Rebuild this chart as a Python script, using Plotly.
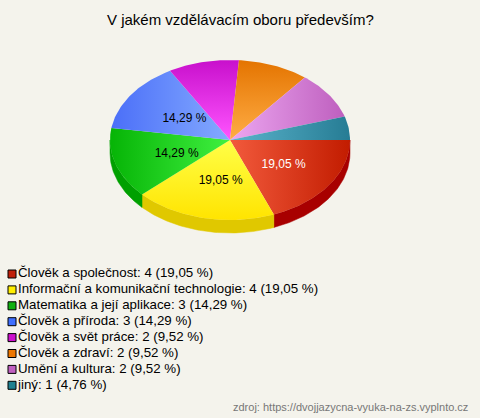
import numpy as np
import plotly.graph_objects as go

categories = ["Člověk a společnost", "Informační a komunikační technologie",
              "Matematika a její aplikace", "Člověk a příroda",
              "Člověk a svět práce", "Člověk a zdraví", "Umění a kultura", "jiný"]
counts = [4, 4, 3, 3, 2, 2, 2, 1]
light_colors = ["#f25a3c", "#ffff48", "#40f040", "#84aaff", "#ff55ff", "#ffad45", "#eca6f0", "#5cb4cc"]
dark_colors = ["#c21c00", "#ffe400", "#06b406", "#4a6ef8", "#c810cc", "#e47400", "#bc5cbc", "#267c94"]
side_colors = ["#a80000", "#e0c800", "#00a000", "#3a5ad0", "#a800b0", "#c06000", "#a050a8", "#1a6a80"]
legend_colors = ["#c0200a", "#ffee00", "#10b010", "#4070ff", "#cc11cc", "#ee7700", "#c060c0", "#208090"]
label_colors = ["white", "black", "black", "black", "black", "black", "black", "black"]
title_text = "V jakém vzdělávacím oboru především?"
source_text = "zdroj: https://dvojjazycna-vyuka-na-zs.vyplnto.cz"

W, H = 480, 418
cx, cy, rx, ry, depth = 230.0, 140.0, 120.0, 80.0, 13.0
BG = "#f4f3ec"
FONT = "Liberation Sans, Arial, sans-serif"

total = sum(counts)
pcts = [c / total * 100 for c in counts]
fr = np.array(counts) / total
ends = np.cumsum(fr) * 2 * np.pi
starts = ends - fr * 2 * np.pi

def arc(a0, a1, dy=0.0, n=None):
    n = n or max(4, int(abs(a1 - a0) * 60))
    t = np.linspace(a0, a1, n)
    return cx + rx * np.cos(t), cy + dy + ry * np.sin(t)

fig = go.Figure()

# side walls (front half only)
for i in range(len(counts)):
    b0, b1 = max(starts[i], 0), min(ends[i], np.pi)
    if b1 <= b0:
        continue
    xt, yt = arc(b0, b1)
    xb, yb = arc(b1, b0, depth)
    fig.add_trace(go.Scatter(x=np.r_[xt, xb, xt[0]], y=np.r_[yt, yb, yt[0]],
                             mode="lines", fill="toself", fillcolor=side_colors[i],
                             line=dict(width=0.5, color=side_colors[i]),
                             hoverinfo="skip", showlegend=False))

# top surface with gradient lighter towards the pie centre
for i in range(len(counts)):
    xa, ya = arc(starts[i], ends[i])
    m = (starts[i] + ends[i]) / 2
    dx, dy = rx * np.cos(m), ry * np.sin(m)
    if abs(dx) > abs(dy):
        grad = dict(type="horizontal", start=cx, stop=cx + (rx if dx > 0 else -rx))
    else:
        grad = dict(type="vertical", start=cy, stop=cy + (ry if dy > 0 else -ry))
    grad["colorscale"] = [[0, light_colors[i]], [1, dark_colors[i]]]
    fig.add_trace(go.Scatter(x=np.r_[cx, xa, cx], y=np.r_[cy, ya, cy],
                             mode="lines", fill="toself", fillgradient=grad,
                             line=dict(width=0),
                             hoverinfo="skip", showlegend=False))

# slice labels (only big slices)
lx, ly, lt, lc = [], [], [], []
for i in range(len(counts)):
    if pcts[i] < 12:
        continue
    m = (starts[i] + ends[i]) / 2
    lx.append(cx + 0.5 * rx * np.cos(m) + 4)
    ly.append(cy + 0.5 * ry * np.sin(m) + 2)
    lt.append(f"{pcts[i]:.2f} %".replace(".", ","))
    lc.append(label_colors[i])
fig.add_trace(go.Scatter(x=lx, y=ly, mode="text", text=lt,
                         textfont=dict(family=FONT, size=12, color=lc),
                         hoverinfo="skip", showlegend=False))

# legend
ys = [274 + 15.9 * i for i in range(len(categories))]
for i, name in enumerate(categories):
    txt = f"{name}: {counts[i]} ({pcts[i]:.2f} %)".replace(".", ",")
    fig.add_trace(go.Scatter(x=[12], y=[ys[i]], mode="markers+text", text=[txt],
                             textposition="middle right",
                             marker=dict(symbol="square", size=8, color=legend_colors[i],
                                         line=dict(color="black", width=1)),
                             textfont=dict(family=FONT, size=13.3, color="black"),
                             hoverinfo="skip", showlegend=False, cliponaxis=False))

fig.add_annotation(x=240, y=19, text=title_text, showarrow=False,
                   font=dict(family=FONT, size=15, color="black"), xanchor="center", yanchor="middle")
fig.add_annotation(x=470, y=407, text=source_text, showarrow=False,
                   font=dict(family=FONT, size=11, color="#777777"), xanchor="right", yanchor="middle")

fig.update_layout(width=W, height=H, margin=dict(l=0, r=0, t=0, b=0),
                  paper_bgcolor=BG, plot_bgcolor=BG, autosize=False,
                  xaxis=dict(range=[0, W], visible=False, fixedrange=True),
                  yaxis=dict(range=[H, 0], visible=False, fixedrange=True))
fig.write_html("out.html", config={"displayModeBar": False},
               post_script="document.body.style.margin='0';document.body.style.overflow='hidden';")
